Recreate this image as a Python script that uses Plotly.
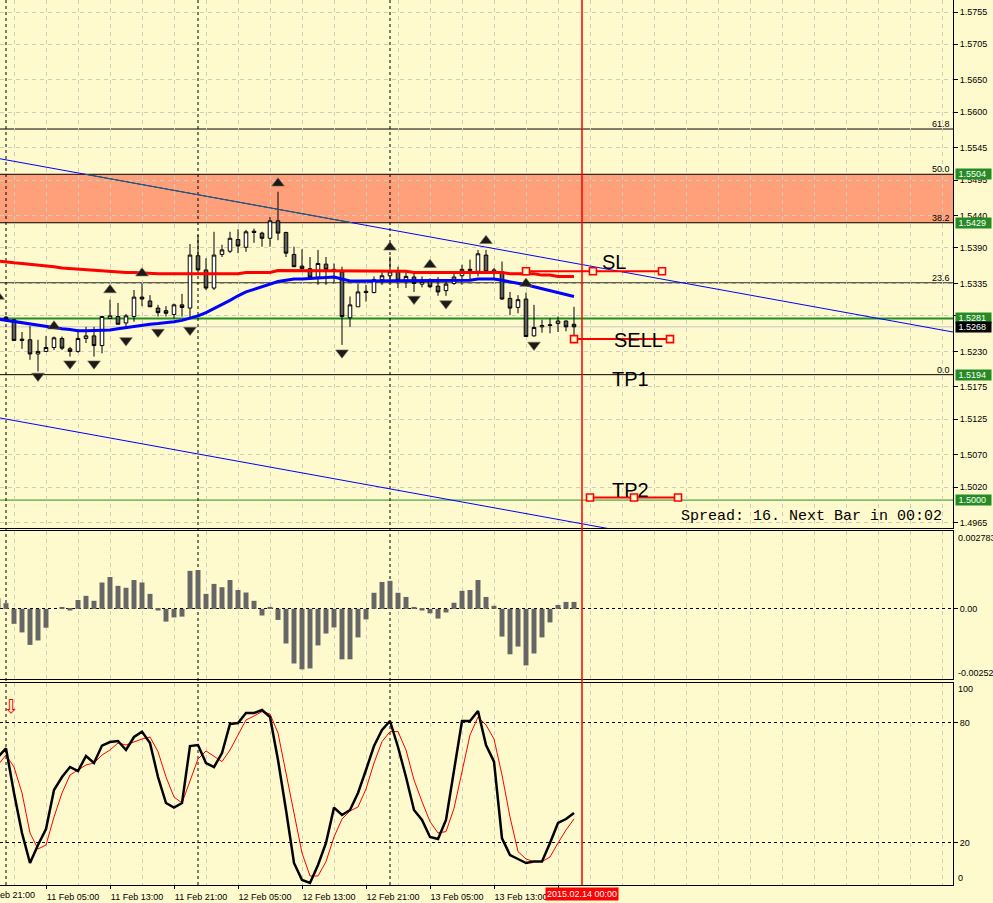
import pandas as pd
import plotly.graph_objects as go

BG = "#FFFACD"

# ---------------- data ----------------
bar_start = "2015-02-11 00:00"      # first H1 candle
ind_start = "2015-02-10 23:00"      # first indicator value

opens = [1.5283, 1.5279, 1.5249, 1.5248, 1.5226, 1.5230, 1.5236, 1.5250, 1.5234, 1.5230,
         1.5250, 1.5254, 1.5239, 1.5281, 1.5284, 1.5274, 1.5284, 1.5314, 1.5308, 1.5297,
         1.5293, 1.5287, 1.5302, 1.5297, 1.5378, 1.5356, 1.5328, 1.5380, 1.5385, 1.5403,
         1.5391, 1.5416, 1.5413, 1.5405, 1.5432, 1.5414, 1.5380, 1.5362, 1.5358, 1.5345,
         1.5365, 1.5354, 1.5353, 1.5282, 1.5299, 1.5323, 1.5321, 1.5341, 1.5347, 1.5353,
         1.5339, 1.5345, 1.5334, 1.5338, 1.5331, 1.5324, 1.5335, 1.5347, 1.5355, 1.5354,
         1.5379, 1.5353, 1.5353, 1.5312, 1.5298, 1.5311, 1.5254, 1.5268, 1.5270, 1.5273,
         1.5277, 1.5272]
highs = [1.5285, 1.5280, 1.5260, 1.5269, 1.5248, 1.5254, 1.5253, 1.5253, 1.5237, 1.5260,
         1.5268, 1.5268, 1.5285, 1.5310, 1.5305, 1.5288, 1.5325, 1.5335, 1.5317, 1.5302,
         1.5300, 1.5304, 1.5319, 1.5396, 1.5410, 1.5374, 1.5415, 1.5395, 1.5415, 1.5419,
         1.5418, 1.5420, 1.5415, 1.5438, 1.5477, 1.5415, 1.5392, 1.5388, 1.5376, 1.5387,
         1.5376, 1.5366, 1.5361, 1.5315, 1.5334, 1.5333, 1.5346, 1.5356, 1.5377, 1.5361,
         1.5353, 1.5351, 1.5346, 1.5343, 1.5345, 1.5340, 1.5350, 1.5364, 1.5372, 1.5387,
         1.5387, 1.5359, 1.5369, 1.5322, 1.5317, 1.5321, 1.5302, 1.5279, 1.5281, 1.5284,
         1.5278, 1.5299]
lows = [1.5279, 1.5246, 1.5234, 1.5217, 1.5199, 1.5229, 1.5232, 1.5232, 1.5222, 1.5228,
        1.5243, 1.5222, 1.5227, 1.5280, 1.5272, 1.5268, 1.5276, 1.5300, 1.5299, 1.5284,
        1.5284, 1.5281, 1.5284, 1.5281, 1.5356, 1.5325, 1.5325, 1.5376, 1.5382, 1.5382,
        1.5384, 1.5398, 1.5392, 1.5392, 1.5402, 1.5376, 1.5361, 1.5356, 1.5343, 1.5333,
        1.5333, 1.5335, 1.5240, 1.5268, 1.5299, 1.5307, 1.5320, 1.5333, 1.5340, 1.5328,
        1.5328, 1.5322, 1.5329, 1.5328, 1.5316, 1.5316, 1.5333, 1.5333, 1.5340, 1.5346,
        1.5351, 1.5342, 1.5310, 1.5286, 1.5289, 1.5253, 1.5253, 1.5259, 1.5258, 1.5260,
        1.5261, 1.5253]
closes = [1.5281, 1.5247, 1.5247, 1.5226, 1.5230, 1.5236, 1.5251, 1.5235, 1.5230, 1.5250,
          1.5254, 1.5239, 1.5284, 1.5285, 1.5272, 1.5285, 1.5314, 1.5311, 1.5299, 1.5290,
          1.5289, 1.5302, 1.5298, 1.5379, 1.5356, 1.5328, 1.5379, 1.5387, 1.5405, 1.5393,
          1.5415, 1.5414, 1.5405, 1.5432, 1.5413, 1.5382, 1.5361, 1.5358, 1.5345, 1.5366,
          1.5357, 1.5357, 1.5284, 1.5302, 1.5322, 1.5321, 1.5341, 1.5347, 1.5353, 1.5340,
          1.5346, 1.5335, 1.5338, 1.5330, 1.5322, 1.5334, 1.5345, 1.5357, 1.5357, 1.5381,
          1.5353, 1.5356, 1.5311, 1.5297, 1.5310, 1.5253, 1.5267, 1.5270, 1.5271, 1.5277,
          1.5268, 1.5268]

ma_red = [1.5370, 1.5368, 1.5367, 1.5366, 1.5365, 1.5364, 1.5362, 1.5361, 1.5359, 1.5358,
          1.5357, 1.5356, 1.5355, 1.5355, 1.5354, 1.5353, 1.5352, 1.5352, 1.5351, 1.5351,
          1.5350, 1.5350, 1.5350, 1.5350, 1.5350, 1.5350, 1.5350, 1.5350, 1.5350, 1.5350,
          1.5350, 1.5352, 1.5352, 1.5352, 1.5352, 1.5355, 1.5355, 1.5355, 1.5355, 1.5355,
          1.5355, 1.5355, 1.5355, 1.5354, 1.5354, 1.5354, 1.5354, 1.5354, 1.5354, 1.5354,
          1.5354, 1.5354, 1.5352, 1.5352, 1.5352, 1.5352, 1.5352, 1.5352, 1.5352, 1.5352,
          1.5352, 1.5352, 1.5352, 1.5352, 1.5350, 1.5350, 1.5350, 1.5350, 1.5348, 1.5348,
          1.5346, 1.5346, 1.5346]
ma_blue = [1.5280, 1.5278, 1.5277, 1.5274, 1.5272, 1.5270, 1.5268, 1.5266, 1.5265, 1.5264,
           1.5262, 1.5262, 1.5262, 1.5262, 1.5263, 1.5265, 1.5267, 1.5268, 1.5270, 1.5272,
           1.5273, 1.5274, 1.5276, 1.5278, 1.5281, 1.5285, 1.5290, 1.5296, 1.5302, 1.5309,
           1.5316, 1.5322, 1.5326, 1.5330, 1.5334, 1.5338, 1.5340, 1.5342, 1.5342, 1.5343,
           1.5343, 1.5345, 1.5345, 1.5342, 1.5339, 1.5339, 1.5339, 1.5339, 1.5339, 1.5339,
           1.5339, 1.5339, 1.5339, 1.5339, 1.5339, 1.5339, 1.5339, 1.5339, 1.5339, 1.5340,
           1.5342, 1.5342, 1.5342, 1.5340, 1.5338, 1.5335, 1.5333, 1.5330, 1.5327, 1.5324,
           1.5320, 1.5317, 1.5315]

macd_hist = [0.000385, 0.000205, -0.00054, -0.00085, -0.0013, -0.00114, -0.00068, 0.0,
             0.00006, -0.00006, 0.00032, 0.00047, 0.00029, 0.00095, 0.00115, 0.00083,
             0.00076, 0.00104, 0.00095, 0.00054, -0.00006, -0.00046, -0.00031, -0.00028,
             0.00137, 0.0014, 0.00054, 0.0009, 0.00078, 0.00104, 0.00068, 0.00059,
             0.00029, -0.00024, 0.00007, -0.0004, -0.00125, -0.00197, -0.00218, -0.00215,
             -0.00132, -0.00089, -0.00067, -0.00182, -0.00182, -0.00103, -0.00038, 0.00058,
             0.00097, 0.00101, 0.00058, 0.00043, 0.00007, -0.00006, -0.00016, -0.00035,
             -0.00013, 0.00022, 0.00065, 0.00068, 0.00104, 0.00043, 0.00011, -0.001,
             -0.00164, -0.00136, -0.00204, -0.00161, -0.00103, -0.00049, 0.00014, 0.00025,
             0.00025]

stoch_k = [63, 67.3, 45, 25, 10, 19, 27, 46.5, 53, 58, 56, 63.5, 60, 68.7, 70.5, 71, 66.5,
           73, 75.7, 70, 53, 40, 37.7, 40, 68.5, 69, 60, 58, 65, 79.5, 80, 85, 85, 86.5, 83,
           61.5, 36.5, 10, 1.5, 0, 9, 20, 37.7, 34, 36.5, 45, 56.5, 68.5, 76.5, 81, 68, 53,
           36.5, 31.5, 23, 22, 31.5, 56.5, 81, 81, 86, 69, 60.7, 22.3, 14, 12, 10, 10.7,
           10.7, 20, 30, 32, 35]
stoch_d = [59, 64, 58, 45, 25, 17, 19, 33, 45, 54, 56.5, 59, 60, 64, 66.5, 70, 69, 70.7, 72,
           73, 65.7, 53, 43, 40, 51.5, 62, 66, 63.5, 60.7, 66.5, 74, 81.5, 83.5, 85.7, 84.5,
           75, 55, 35, 15, 3.5, 3.5, 10.7, 23, 32, 36, 38, 47, 60, 70.7, 75.7, 75.7, 66.5,
           51.5, 40.7, 30.7, 25, 25.7, 37.3, 56.5, 74, 83, 79, 72, 54, 33, 15.7, 12, 10.7,
           10.7, 13, 20, 26.5, 32]

frac_up_t = ["2015-02-10 23:00", "2015-02-11 06:00", "2015-02-11 13:00", "2015-02-11 17:00",
             "2015-02-12 10:00", "2015-02-13 00:00", "2015-02-13 05:00", "2015-02-13 12:00",
             "2015-02-13 17:00"]
frac_up_p = [1.5315, 1.5269, 1.5325, 1.5351, 1.5490, 1.5391, 1.5364, 1.5401, 1.5335]
frac_dn_t = ["2015-02-11 04:00", "2015-02-11 08:00", "2015-02-11 11:00", "2015-02-11 15:00",
             "2015-02-11 19:00", "2015-02-11 23:00", "2015-02-12 18:00", "2015-02-13 03:00",
             "2015-02-13 07:00", "2015-02-13 18:00"]
frac_dn_p = [1.5192, 1.5211, 1.5211, 1.5247, 1.5260, 1.5263, 1.5228, 1.5311, 1.5304, 1.5240]

fib_levels = ["0.0", "23.6", "38.2", "50.0", "61.8"]
fib_prices = [1.5194, 1.5336, 1.5429, 1.5504, 1.5574]
zone_low, zone_high = 1.5429, 1.5504

trend_up_t = ["2015-02-10 23:15", "2015-02-15 22:22"]
trend_up_p = [1.5528, 1.5260]
trend_dn_t = ["2015-02-10 23:15", "2015-02-15 22:22"]
trend_dn_p = [1.5127, 1.4859]

sl_t = ["2015-02-13 17:00", "2015-02-14 01:22", "2015-02-14 10:00"]
sl_p = 1.5354
sell_t = ["2015-02-13 23:00", "2015-02-14 11:00"]
sell_p = 1.5249
tp2_t = ["2015-02-14 01:00", "2015-02-14 06:30", "2015-02-14 12:00"]
tp2_p = 1.5004

trade_text = ["SL", "SELL", "TP1", "TP2"]
trade_text_t = ["2015-02-14 04:00", "2015-02-14 07:00", "2015-02-14 06:00", "2015-02-14 06:00"]
trade_text_p = [1.5368, 1.5248, 1.5187, 1.5016]

level_green = 1.5281
level_tp = 1.5000
level_bid = 1.5268

box_prices = [1.5504, 1.5429, 1.5281, 1.5268, 1.5194, 1.5000]
box_colors = ["#258C25", "#258C25", "#258C25", "#000000", "#258C25", "#258C25"]

price_ticks = [1.5755, 1.5705, 1.5650, 1.5600, 1.5545, 1.5495, 1.5440, 1.5390, 1.5335,
               1.5285, 1.5230, 1.5175, 1.5125, 1.5070, 1.5020, 1.4965]
time_labels = ["2015-02-11 05:00", "2015-02-11 13:00", "2015-02-11 21:00",
               "2015-02-12 05:00", "2015-02-12 13:00", "2015-02-12 21:00",
               "2015-02-13 05:00", "2015-02-13 13:00", "2015-02-13 21:00"]
first_label = "10 Feb 21:00"
separators = ["2015-02-11 00:00", "2015-02-12 00:00", "2015-02-13 00:00"]
now_time = "2015-02-14 00:00"
hist_max, hist_min = 0.002783, -0.00252
stoch_levels = [20, 80]
spread_text = "Spread: 16. Next Bar in 00:02"

# ---------------- build ----------------
bars_t = pd.date_range(bar_start, periods=len(opens), freq="h")
ind_t = pd.date_range(ind_start, periods=len(macd_hist), freq="h")

T0 = pd.Timestamp(bar_start)
x_range = [T0 - pd.Timedelta(minutes=45), T0 + pd.Timedelta(hours=118.375)]
grid_t0 = "2015-02-11 01:00"
H4 = 4 * 3600 * 1000

GRID = "#CFCCB8"
DASH = "4px,4px"
FONT = "Liberation Sans"

fig = go.Figure()

# trend channel (blue, teal where it crosses the zone)
fig.add_trace(go.Scatter(x=pd.to_datetime(trend_up_t), y=trend_up_p, mode="lines",
                         line=dict(color="#0000FF", width=1), hoverinfo="skip"))
fig.add_trace(go.Scatter(x=pd.to_datetime(trend_dn_t), y=trend_dn_p, mode="lines",
                         line=dict(color="#0000FF", width=1), hoverinfo="skip"))
t_a, t_b = pd.to_datetime(trend_up_t)


def t_at(level):
    frac = (level - trend_up_p[0]) / (trend_up_p[1] - trend_up_p[0])
    return (t_a + (t_b - t_a) * frac).round("s")


fig.add_trace(go.Scatter(x=[t_at(zone_high), t_at(zone_low)], y=[zone_high, zone_low],
                         mode="lines", line=dict(color="#1B6B5B", width=1), hoverinfo="skip"))

fig.add_trace(go.Candlestick(
    x=bars_t, open=opens, high=highs, low=lows, close=closes,
    increasing=dict(line=dict(color="black", width=1), fillcolor="white"),
    decreasing=dict(line=dict(color="black", width=1), fillcolor="#5E5E5E"),
    whiskerwidth=0, hoverinfo="skip", xaxis="x", yaxis="y"))

fig.add_trace(go.Scatter(x=ind_t, y=ma_red, mode="lines", line=dict(color="#FF0000", width=3)))
fig.add_trace(go.Scatter(x=ind_t, y=ma_blue, mode="lines", line=dict(color="#0000FF", width=3)))

fig.add_trace(go.Scatter(x=pd.to_datetime(frac_up_t), y=frac_up_p, mode="markers",
                         marker=dict(symbol="triangle-up", size=11, color="#1A1A1A",
                                     line=dict(color="#7A6A50", width=0.6))))
fig.add_trace(go.Scatter(x=pd.to_datetime(frac_dn_t), y=frac_dn_p, mode="markers",
                         marker=dict(symbol="triangle-down", size=11, color="#1A1A1A",
                                     line=dict(color="#7A6A50", width=0.6))))

sq = dict(symbol="square", size=7, color=BG, line=dict(color="#FF0000", width=1.6))
for tt, pp in [(sl_t, sl_p), (sell_t, sell_p), (tp2_t, tp2_p)]:
    fig.add_trace(go.Scatter(x=pd.to_datetime(tt), y=[pp] * len(tt), mode="lines+markers",
                             line=dict(color="#FF0000", width=2), marker=sq))

# histogram panel
fig.add_trace(go.Bar(x=ind_t, y=macd_hist, xaxis="x2", yaxis="y2",
                     marker=dict(color="#666666", line=dict(width=0))))

# stochastic panel
fig.add_trace(go.Scatter(x=ind_t, y=stoch_d, xaxis="x3", yaxis="y3", mode="lines",
                         line=dict(color="#FF0000", width=1)))
fig.add_trace(go.Scatter(x=ind_t, y=stoch_k, xaxis="x3", yaxis="y3", mode="lines",
                         line=dict(color="#000000", width=2.5)))

# ---------------- shapes ----------------
shapes = [dict(type="rect", xref="x domain", yref="y", x0=0, x1=1, y0=zone_low, y1=zone_high,
               fillcolor="#FFA07A", line=dict(width=0), layer="below")]
for p in fib_prices:
    shapes.append(dict(type="line", xref="x domain", yref="y", x0=0, x1=1, y0=p, y1=p,
                       line=dict(color="black", width=1), layer="below"))
shapes.append(dict(type="line", xref="x domain", yref="y", x0=0, x1=1, y0=level_bid, y1=level_bid,
                   line=dict(color="#C4C4C4", width=1), layer="below"))
shapes.append(dict(type="line", xref="x domain", yref="y", x0=0, x1=1, y0=level_green,
                   y1=level_green, line=dict(color="#238E23", width=2), layer="below"))
shapes.append(dict(type="line", xref="x domain", yref="y", x0=0, x1=1, y0=level_tp, y1=level_tp,
                   line=dict(color="#238E23", width=1), layer="below"))
for s in separators:
    shapes.append(dict(type="line", xref="x", yref="paper", x0=s, x1=s, y0=0, y1=1,
                       line=dict(color="black", width=1, dash="dot"), layer="below"))
shapes.append(dict(type="line", xref="x", yref="paper", x0=now_time, x1=now_time, y0=0, y1=1,
                   line=dict(color="#FF0000", width=1.5), layer="above"))

# ---------------- annotations ----------------
ann = []
for p, c in zip(box_prices, box_colors):
    ann.append(dict(xref="paper", x=1, xanchor="left", xshift=2, yref="y", y=p,
                    yanchor="middle", text="\u00a0" + f"{p:.4f}" + "\u00a0\u00a0", showarrow=False,
                    bgcolor=c, borderpad=0, font=dict(family=FONT, size=9, color="white")))
for lab, p in zip(fib_levels, fib_prices):
    ann.append(dict(xref="paper", x=1, xanchor="right", xshift=-1, yref="y", y=p,
                    yanchor="bottom", yshift=-2, text=lab, showarrow=False,
                    font=dict(family=FONT, size=9, color="black")))
for txt, tt, pp in zip(trade_text, trade_text_t, trade_text_p):
    ann.append(dict(xref="x", yref="y", x=tt, y=pp, text=txt, showarrow=False,
                    font=dict(family=FONT, size=20, color="black")))
ann.append(dict(xref="paper", x=1, xanchor="right", xshift=-9, yref="y domain", y=0,
                yanchor="bottom", yshift=1, text=spread_text, showarrow=False,
                font=dict(family="Liberation Mono", size=15, color="black")))
ann.append(dict(xref="paper", x=1, xanchor="left", xshift=3, yref="y2", y=hist_max,
                yanchor="middle", yshift=-6, text=f"{hist_max:.6f}", showarrow=False,
                font=dict(family=FONT, size=9, color="black")))
ann.append(dict(xref="paper", x=1, xanchor="left", xshift=3, yref="y2", y=hist_min,
                yanchor="middle", yshift=6, text=f"{hist_min:.5f}", showarrow=False,
                font=dict(family=FONT, size=9, color="black")))
ann.append(dict(xref="paper", x=1, xanchor="left", xshift=3, yref="y3", y=100,
                yanchor="middle", yshift=-6, text="100", showarrow=False,
                font=dict(family=FONT, size=9, color="black")))
ann.append(dict(xref="paper", x=1, xanchor="left", xshift=3, yref="y3", y=0,
                yanchor="middle", yshift=5, text="0", showarrow=False,
                font=dict(family=FONT, size=9, color="black")))
ann.append(dict(xref="x3", x=bars_t[0], yref="y3", y=88.5, text="\u21e9", showarrow=False,
                xanchor="left", xshift=-5,
                font=dict(family="DejaVu Sans", size=19, color="#FF0000")))
ann.append(dict(xref="x3", x=now_time, yref="paper", y=0, yanchor="top", yshift=-2,
                text=pd.Timestamp(now_time).strftime("%Y.%m.%d %H:%M"), showarrow=False,
                bgcolor="#FF0000", borderpad=1, font=dict(family=FONT, size=9, color="white")))
ann.append(dict(xref="paper", x=0, xanchor="left", xshift=-20, yref="paper", y=0,
                yanchor="top", yshift=-3, text=first_label, showarrow=False,
                font=dict(family=FONT, size=9, color="black")))

# ---------------- layout ----------------
xbase = dict(type="date", range=x_range, showgrid=True, gridcolor=GRID, griddash=DASH,
             gridwidth=1, zeroline=False, showline=True, linecolor="black", linewidth=1)
lab_t = pd.to_datetime(time_labels)

fig.update_layout(
    width=993, height=903, margin=dict(l=0, r=40, t=0, b=18),
    paper_bgcolor=BG, plot_bgcolor=BG, showlegend=False, bargap=0.38, boxgap=0.36,
    font=dict(family=FONT, size=9, color="black"),
    shapes=shapes, annotations=ann, hovermode=False,
    xaxis=dict(**xbase, anchor="y", tickmode="linear", tick0=grid_t0, dtick=H4,
               showticklabels=False, ticks="", rangeslider=dict(visible=False)),
    xaxis2=dict(**xbase, anchor="y2", tickmode="linear", tick0=grid_t0, dtick=H4,
                showticklabels=False, ticks="", mirror=True),
    xaxis3=dict(**xbase, anchor="y3", tickmode="array", tickvals=lab_t,
                ticktext=[t.strftime("%d %b %H:%M") for t in lab_t],
                ticks="outside", ticklen=3, tickcolor="black", ticklabelshift=27,
                tickfont=dict(family=FONT, size=9, color="black"), mirror=True,
                minor=dict(tickmode="linear", tick0=grid_t0, dtick=H4, showgrid=True,
                           gridcolor=GRID, griddash=DASH, ticks="")),
    yaxis=dict(domain=[0.40339, 1.0], range=[1.49568, 1.57736], side="right", anchor="x",
               tickmode="array", tickvals=price_ticks,
               ticktext=[f"{v:.4f}" for v in price_ticks],
               showgrid=True, gridcolor=GRID, griddash=DASH, ticks="outside", ticklen=4,
               tickcolor="black", showline=True, linecolor="black", zeroline=False,
               tickfont=dict(family=FONT, size=9, color="black")),
    yaxis2=dict(domain=[0.232768, 0.4], range=[-0.00253, 0.002808], side="right", anchor="x2",
                tickmode="array", tickvals=[0], ticktext=["0.00"], showgrid=True,
                gridcolor="black", griddash="3px,3px", ticks="outside", ticklen=4,
                tickcolor="black", showline=True, linecolor="black", zeroline=False,
                tickfont=dict(family=FONT, size=9, color="black")),
    yaxis3=dict(domain=[0.0, 0.228249], range=[-1, 100], side="right", anchor="x3",
                tickmode="array", tickvals=stoch_levels,
                ticktext=[str(v) for v in stoch_levels], showgrid=True,
                gridcolor="black", griddash="3px,3px", ticks="outside", ticklen=4,
                tickcolor="black", showline=True, linecolor="black", zeroline=False,
                tickfont=dict(family=FONT, size=9, color="black")),
)

fig.write_html("out.html")
